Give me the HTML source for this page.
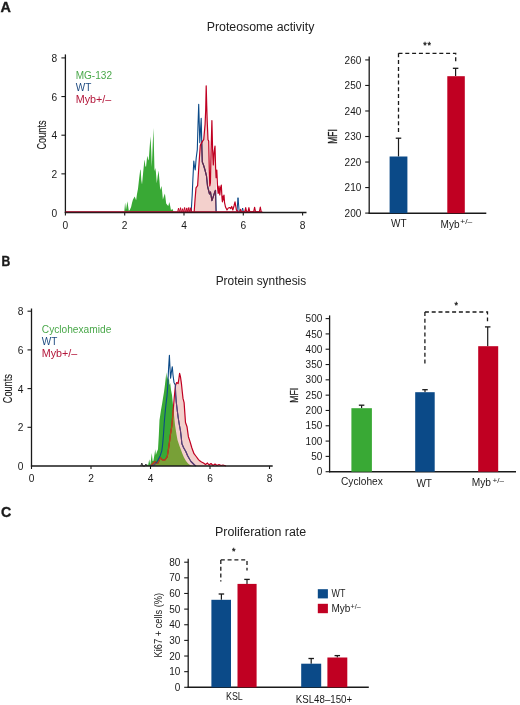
<!DOCTYPE html>
<html><head><meta charset="utf-8"><style>
html,body{margin:0;padding:0;background:#fff;}
svg{display:block;font-family:"Liberation Sans", sans-serif;will-change:transform;}
</style></head><body>
<svg width="520" height="705" viewBox="0 0 520 705">
<rect width="520" height="705" fill="#fff"/>
<text x="0.4" y="12.3" font-size="14.2" fill="#1a1a1a" font-weight="bold" textLength="10.4" lengthAdjust="spacingAndGlyphs" stroke="#1a1a1a" stroke-width="0.35">A</text>
<text x="1.6" y="266.4" font-size="14.0" fill="#1a1a1a" font-weight="bold" textLength="8.8" lengthAdjust="spacingAndGlyphs" stroke="#1a1a1a" stroke-width="0.35">B</text>
<text x="1.0" y="517.3" font-size="14.2" fill="#1a1a1a" font-weight="bold" stroke="#1a1a1a" stroke-width="0.35">C</text>
<text x="206.7" y="30.5" font-size="12.3" fill="#222" textLength="107.7" lengthAdjust="spacingAndGlyphs">Proteosome activity</text>
<text x="215.7" y="285.3" font-size="12.3" fill="#222" textLength="90.5" lengthAdjust="spacingAndGlyphs">Protein synthesis</text>
<text x="215.0" y="535.7" font-size="12.0" fill="#222" textLength="91.2" lengthAdjust="spacingAndGlyphs">Proliferation rate</text>
<path d="M124.3,211.7 L125.1,202.5 L126.0,210.0 L127.4,201.2 L128.8,210.8 L129.8,210.0 L131.1,207.1 L132.0,203.0 L132.9,199.8 L134.7,196.5 L136.1,200.2 L137.0,194.0 L138.0,188.7 L139.2,178.0 L140.3,169.4 L140.7,170.0 L141.3,180.0 L142.0,184.6 L143.2,172.0 L144.4,160.1 L144.7,160.4 L145.3,166.0 L146.0,167.1 L147.0,158.0 L147.4,155.7 L148.0,159.0 L148.7,160.4 L149.6,148.0 L150.5,136.2 L151.2,150.0 L151.8,167.1 L152.7,145.0 L153.5,128.1 L154.0,150.0 L154.5,171.1 L155.3,168.0 L155.9,172.0 L156.8,183.3 L157.7,176.0 L158.6,170.5 L159.4,180.0 L160.2,190.0 L161.5,186.0 L162.2,192.0 L162.9,199.4 L164.0,196.0 L164.9,193.4 L165.5,198.0 L166.2,203.4 L167.3,205.0 L168.3,206.1 L169.3,202.1 L170.2,206.0 L171.0,210.2 L172.3,208.8 L173.6,211.7 Z" fill="#39a935" stroke="none" stroke-width="1.0" stroke-linejoin="round"/>
<path d="M194.2,211.7 L195.0,200.0 L196.0,187.9 L197.6,185.7 L198.6,170.0 L199.4,158.0 L200.3,145.4 L200.9,144.0 L202.6,141.1 L203.7,139.7 L205.1,124.1 L205.7,110.0 L206.2,85.8 L206.7,105.0 L207.2,121.0 L208.0,139.7 L208.7,141.1 L209.3,170.0 L209.8,186.0 L210.4,183.0 L211.1,150.0 L211.9,120.6 L212.6,150.0 L213.3,165.0 L214.1,152.0 L215.0,146.1 L215.6,168.0 L216.1,177.6 L216.4,211.7 Z" fill="#f3d0cc" stroke="none" stroke-width="1.0" stroke-linejoin="round"/>
<path d="M191.2,211.7 L192.2,195.0 L192.9,179.0 L193.8,161.0 L194.4,166.0 L195.2,170.0 L196.2,158.0 L197.3,149.6 L198.0,125.0 L198.7,104.3 L199.3,125.0 L199.8,142.6 L200.5,130.0 L201.2,118.4 L201.9,149.6 L202.3,162.0 L203.5,165.0 L205.0,170.0 L206.5,176.0 L207.5,186.0 L208.5,190.0 L209.5,194.0 L210.5,192.0 L211.9,200.6 L213.5,196.0 L215.1,191.0 L215.6,190.4 L216.2,211.7" fill="none" stroke="#0b4a88" stroke-width="1.1" stroke-linejoin="round"/>
<clipPath id="cpa"><path d="M194.2,211.7 L195.0,200.0 L196.0,187.9 L197.6,185.7 L198.6,170.0 L199.4,158.0 L200.3,145.4 L200.9,144.0 L202.6,141.1 L203.7,139.7 L205.1,124.1 L205.7,110.0 L206.2,85.8 L206.7,105.0 L207.2,121.0 L208.0,139.7 L208.7,141.1 L209.3,170.0 L209.8,186.0 L210.4,183.0 L211.1,150.0 L211.9,120.6 L212.6,150.0 L213.3,165.0 L214.1,152.0 L215.0,146.1 L215.6,168.0 L216.1,177.6 L216.4,211.7 Z"/></clipPath>
<path clip-path="url(#cpa)" d="M191.2,211.7 L192.2,195.0 L192.9,179.0 L193.8,161.0 L194.4,166.0 L195.2,170.0 L196.2,158.0 L197.3,149.6 L198.0,125.0 L198.7,104.3 L199.3,125.0 L199.8,142.6 L200.5,130.0 L201.2,118.4 L201.9,149.6 L202.3,162.0 L203.5,165.0 L205.0,170.0 L206.5,176.0 L207.5,186.0 L208.5,190.0 L209.5,194.0 L210.5,192.0 L211.9,200.6 L213.5,196.0 L215.1,191.0 L215.6,190.4 L216.2,211.7" fill="none" stroke="#6a2448" stroke-width="1.2" stroke-linejoin="round"/>
<path d="M237.0,211.7 L238.0,197.7 L239.2,211.7 L241.8,211.7 L242.6,208.0 L243.4,211.7" fill="none" stroke="#0b4a88" stroke-width="1.0" stroke-linejoin="round"/>
<path d="M194.2,211.7 L195.0,200.0 L196.0,187.9 L197.6,185.7 L198.6,170.0 L199.4,158.0 L200.3,145.4 L200.9,144.0 L202.6,141.1 L203.7,139.7 L205.1,124.1 L205.7,110.0 L206.2,85.8 L206.7,105.0 L207.2,121.0 L208.0,139.7 L208.7,141.1 L209.3,170.0 L209.8,186.0 L210.4,183.0 L211.1,150.0 L211.9,120.6 L212.6,150.0 L213.3,165.0 L214.1,152.0 L215.0,146.1 L215.6,168.0 L216.1,177.6 L216.8,170.0 L217.6,188.0 L218.2,193.5 L219.0,186.0 L219.8,195.0 L220.5,188.0 L221.3,185.2 L222.0,198.0 L222.4,201.8 L223.0,196.0 L223.5,200.0 L224.0,195.0 L224.5,202.3 L225.5,207.0 L227.0,210.0 L228.3,208.0 L229.7,207.5 L230.7,208.5 L231.7,206.5 L232.8,210.0 L234.0,206.0 L235.0,201.8 L236.4,210.0 L237.5,211.0 L238.3,211.7" fill="none" stroke="#c00022" stroke-width="1.2" stroke-linejoin="round"/>
<path d="M177.7,211.7 L178.5,208.2 L179.3,211.7 L179.7,211.7 L180.5,207.7 L181.3,211.7 L181.8,211.7 L182.6,208.7 L183.4,211.7 L183.8,211.7 L184.6,207.5 L185.4,211.7 L186.0,211.7 L186.8,207.9 L187.6,211.7 L188.0,211.7 L188.8,207.5 L189.6,211.7 L190.0,211.7 L190.8,207.7 L191.6,211.7" fill="none" stroke="#c00022" stroke-width="1.0" stroke-linejoin="round"/>
<path d="M239.7,211.7 L240.5,209.2 L241.3,211.7 L244.8,211.7 L245.7,207.5 L246.6,211.7 L248.0,211.7 L248.9,207.5 L249.8,211.7 L253.7,211.7 L254.6,207.2 L255.5,211.7 L259.4,211.7 L260.3,207.0 L261.2,211.7" fill="none" stroke="#c00022" stroke-width="1.1" stroke-linejoin="round"/>
<line x1="65.4" y1="54.4" x2="65.4" y2="213.1" stroke="#1a1a1a" stroke-width="1.3"/>
<line x1="64.80000000000001" y1="212.5" x2="306.5" y2="212.5" stroke="#1a1a1a" stroke-width="1.6"/>
<text x="57.2" y="216.5" font-size="10.2" fill="#1a1a1a" text-anchor="end">0</text>
<line x1="65.4" y1="212.5" x2="65.4" y2="215.5" stroke="#1a1a1a" stroke-width="1.1"/>
<text x="65.4" y="228.5" font-size="10.2" fill="#1a1a1a" text-anchor="middle">0</text>
<line x1="61.400000000000006" y1="173.85" x2="65.4" y2="173.85" stroke="#1a1a1a" stroke-width="1.1"/>
<text x="57.2" y="177.85" font-size="10.2" fill="#1a1a1a" text-anchor="end">2</text>
<line x1="124.7" y1="212.5" x2="124.7" y2="215.5" stroke="#1a1a1a" stroke-width="1.1"/>
<text x="124.7" y="228.5" font-size="10.2" fill="#1a1a1a" text-anchor="middle">2</text>
<line x1="61.400000000000006" y1="135.2" x2="65.4" y2="135.2" stroke="#1a1a1a" stroke-width="1.1"/>
<text x="57.2" y="139.2" font-size="10.2" fill="#1a1a1a" text-anchor="end">4</text>
<line x1="184.0" y1="212.5" x2="184.0" y2="215.5" stroke="#1a1a1a" stroke-width="1.1"/>
<text x="184.0" y="228.5" font-size="10.2" fill="#1a1a1a" text-anchor="middle">4</text>
<line x1="61.400000000000006" y1="96.55000000000001" x2="65.4" y2="96.55000000000001" stroke="#1a1a1a" stroke-width="1.1"/>
<text x="57.2" y="100.55000000000001" font-size="10.2" fill="#1a1a1a" text-anchor="end">6</text>
<line x1="243.29999999999998" y1="212.5" x2="243.29999999999998" y2="215.5" stroke="#1a1a1a" stroke-width="1.1"/>
<text x="243.29999999999998" y="228.5" font-size="10.2" fill="#1a1a1a" text-anchor="middle">6</text>
<line x1="61.400000000000006" y1="57.900000000000006" x2="65.4" y2="57.900000000000006" stroke="#1a1a1a" stroke-width="1.1"/>
<text x="57.2" y="61.900000000000006" font-size="10.2" fill="#1a1a1a" text-anchor="end">8</text>
<line x1="302.6" y1="212.5" x2="302.6" y2="215.5" stroke="#1a1a1a" stroke-width="1.1"/>
<text x="302.6" y="228.5" font-size="10.2" fill="#1a1a1a" text-anchor="middle">8</text>
<text transform="translate(45.7,135.0) rotate(-90)" x="0" y="0" font-size="12.6" fill="#1a1a1a" stroke="#1a1a1a" stroke-width="0.12" text-anchor="middle" textLength="29.2" lengthAdjust="spacingAndGlyphs">Counts</text>
<line x1="65.60000000000001" y1="211.7" x2="262.3" y2="211.7" stroke="#9a0a28" stroke-width="1.0"/>
<text x="75.7" y="79.2" font-size="10" fill="#4aa84a" textLength="36.3" lengthAdjust="spacingAndGlyphs">MG-132</text>
<text x="75.7" y="91.2" font-size="10" fill="#1d4a80">WT</text>
<text x="75.7" y="103.1" font-size="10" fill="#b3163a" textLength="35.5" lengthAdjust="spacingAndGlyphs">Myb+/–</text>
<line x1="369.2" y1="56.5" x2="369.2" y2="213.79999999999998" stroke="#1a1a1a" stroke-width="1.3"/>
<line x1="368.59999999999997" y1="213.2" x2="486.3" y2="213.2" stroke="#1a1a1a" stroke-width="1.6"/>
<line x1="365.2" y1="213.1" x2="369.2" y2="213.1" stroke="#1a1a1a" stroke-width="1.1"/>
<text x="361.3" y="216.7" font-size="10" fill="#1a1a1a" text-anchor="end">200</text>
<line x1="365.2" y1="187.57" x2="369.2" y2="187.57" stroke="#1a1a1a" stroke-width="1.1"/>
<text x="361.3" y="191.17" font-size="10" fill="#1a1a1a" text-anchor="end">210</text>
<line x1="365.2" y1="162.04" x2="369.2" y2="162.04" stroke="#1a1a1a" stroke-width="1.1"/>
<text x="361.3" y="165.64" font-size="10" fill="#1a1a1a" text-anchor="end">220</text>
<line x1="365.2" y1="136.51" x2="369.2" y2="136.51" stroke="#1a1a1a" stroke-width="1.1"/>
<text x="361.3" y="140.10999999999999" font-size="10" fill="#1a1a1a" text-anchor="end">230</text>
<line x1="365.2" y1="110.97999999999999" x2="369.2" y2="110.97999999999999" stroke="#1a1a1a" stroke-width="1.1"/>
<text x="361.3" y="114.57999999999998" font-size="10" fill="#1a1a1a" text-anchor="end">240</text>
<line x1="365.2" y1="85.45" x2="369.2" y2="85.45" stroke="#1a1a1a" stroke-width="1.1"/>
<text x="361.3" y="89.05" font-size="10" fill="#1a1a1a" text-anchor="end">250</text>
<line x1="365.2" y1="59.91999999999999" x2="369.2" y2="59.91999999999999" stroke="#1a1a1a" stroke-width="1.1"/>
<text x="361.3" y="63.51999999999999" font-size="10" fill="#1a1a1a" text-anchor="end">260</text>
<line x1="398.5" y1="138.2" x2="398.5" y2="156.5" stroke="#1a1a1a" stroke-width="1.2"/>
<line x1="395.75" y1="138.2" x2="401.25" y2="138.2" stroke="#1a1a1a" stroke-width="1.3"/>
<rect x="389.6" y="156.5" width="17.8" height="56.69999999999999" fill="#0b4a88"/>
<line x1="455.6" y1="68.3" x2="455.6" y2="76.0" stroke="#1a1a1a" stroke-width="1.2"/>
<line x1="452.85" y1="68.3" x2="458.35" y2="68.3" stroke="#1a1a1a" stroke-width="1.3"/>
<rect x="447.3" y="76.2" width="17.5" height="137.0" fill="#c00022"/>
<path d="M398.5,53.3 L398.5,134.6" fill="none" stroke="#1a1a1a" stroke-width="1.3" stroke-dasharray="4,2.8"/>
<path d="M398.5,53.3 L455.7,53.3 L455.7,61.7" fill="none" stroke="#1a1a1a" stroke-width="1.3" stroke-dasharray="4,2.8" stroke-linejoin="miter"/>
<text x="427.6" y="48.3" font-size="9" fill="#1a1a1a" text-anchor="middle" stroke="#1a1a1a" stroke-width="0.35" letter-spacing="0.9">**</text>
<text x="398.8" y="226.9" font-size="10" fill="#1a1a1a" text-anchor="middle">WT</text>
<text x="440.6" y="228.3" font-size="10" fill="#1a1a1a" textLength="19" lengthAdjust="spacingAndGlyphs">Myb</text>
<text x="460.3" y="223.6" font-size="7.8" fill="#1a1a1a" textLength="12" lengthAdjust="spacingAndGlyphs">+/–</text>
<text transform="translate(337.4,136.5) rotate(-90)" font-size="12" fill="#1a1a1a" stroke="#1a1a1a" stroke-width="0.3" text-anchor="middle" textLength="14.6" lengthAdjust="spacingAndGlyphs">MFI</text>
<path d="M146.5,466.0 L147.5,464.5 L148.2,465.0 L149.2,459.2 L150.3,465.0 L151.8,453.0 L152.6,461.0 L153.4,460.8 L154.4,455.0 L155.3,449.2 L155.9,455.0 L156.5,453.0 L157.3,451.0 L158.0,449.2 L158.8,435.4 L159.5,420.0 L160.2,415.4 L161.0,410.0 L162.1,403.8 L163.0,398.0 L164.0,392.0 L164.8,386.0 L165.5,380.0 L166.4,372.2 L167.0,380.0 L167.6,376.0 L168.2,380.0 L169.0,378.0 L169.5,385.0 L170.2,383.0 L171.0,390.0 L172.0,395.0 L173.0,405.0 L174.0,415.0 L175.0,425.0 L176.5,434.6 L177.5,440.0 L178.5,443.0 L179.5,446.0 L181.0,450.0 L182.5,454.0 L184.0,457.5 L186.0,461.0 L188.0,463.5 L190.0,465.0 L192.0,466.0 Z" fill="#39a935" stroke="none" stroke-width="1.0" stroke-linejoin="round"/>
<path d="M150.0,466.0 L150.0,466.0 L151.5,465.0 L153.4,463.0 L154.9,461.5 L156.5,463.0 L158.0,463.0 L160.3,457.7 L161.5,459.0 L162.6,460.0 L164.9,460.0 L167.2,456.9 L168.0,452.0 L168.8,446.9 L169.6,441.0 L170.3,435.4 L171.0,431.0 L171.8,426.2 L172.7,416.0 L173.4,408.0 L174.2,398.0 L175.0,390.0 L175.6,385.0 L176.7,382.5 L178.1,383.6 L179.0,378.0 L179.6,373.3 L180.5,377.0 L181.5,384.2 L182.3,392.0 L183.0,398.4 L184.1,402.6 L184.8,412.6 L185.5,422.5 L187.0,426.7 L188.4,436.7 L189.8,440.9 L191.9,448.0 L194.0,453.7 L196.2,456.5 L198.3,459.4 L199.7,460.8 L201.5,462.0 L203.5,463.0 L205.5,464.5 L207.5,463.0 L209.0,465.0 L211.0,463.5 L213.0,465.5 L215.0,464.0 L217.0,465.5 L219.0,464.5 L221.0,465.5 L223.0,465.0 L226.0,466.0 L226.0,466.0 Z" fill="#f3d0cc" stroke="none" stroke-width="1.0" stroke-linejoin="round"/>
<clipPath id="cg"><path d="M146.5,466.0 L147.5,464.5 L148.2,465.0 L149.2,459.2 L150.3,465.0 L151.8,453.0 L152.6,461.0 L153.4,460.8 L154.4,455.0 L155.3,449.2 L155.9,455.0 L156.5,453.0 L157.3,451.0 L158.0,449.2 L158.8,435.4 L159.5,420.0 L160.2,415.4 L161.0,410.0 L162.1,403.8 L163.0,398.0 L164.0,392.0 L164.8,386.0 L165.5,380.0 L166.4,372.2 L167.0,380.0 L167.6,376.0 L168.2,380.0 L169.0,378.0 L169.5,385.0 L170.2,383.0 L171.0,390.0 L172.0,395.0 L173.0,405.0 L174.0,415.0 L175.0,425.0 L176.5,434.6 L177.5,440.0 L178.5,443.0 L179.5,446.0 L181.0,450.0 L182.5,454.0 L184.0,457.5 L186.0,461.0 L188.0,463.5 L190.0,465.0 L192.0,466.0 Z"/></clipPath>
<path clip-path="url(#cg)" d="M150.0,466.0 L150.0,466.0 L151.5,465.0 L153.4,463.0 L154.9,461.5 L156.5,463.0 L158.0,463.0 L160.3,457.7 L161.5,459.0 L162.6,460.0 L164.9,460.0 L167.2,456.9 L168.0,452.0 L168.8,446.9 L169.6,441.0 L170.3,435.4 L171.0,431.0 L171.8,426.2 L172.7,416.0 L173.4,408.0 L174.2,398.0 L175.0,390.0 L175.6,385.0 L176.7,382.5 L178.1,383.6 L179.0,378.0 L179.6,373.3 L180.5,377.0 L181.5,384.2 L182.3,392.0 L183.0,398.4 L184.1,402.6 L184.8,412.6 L185.5,422.5 L187.0,426.7 L188.4,436.7 L189.8,440.9 L191.9,448.0 L194.0,453.7 L196.2,456.5 L198.3,459.4 L199.7,460.8 L201.5,462.0 L203.5,463.0 L205.5,464.5 L207.5,463.0 L209.0,465.0 L211.0,463.5 L213.0,465.5 L215.0,464.0 L217.0,465.5 L219.0,464.5 L221.0,465.5 L223.0,465.0 L226.0,466.0 L226.0,466.0 Z" fill="#78a037"/>
<path d="M150.0,466.0 L151.5,465.0 L153.4,463.0 L154.9,461.5 L156.5,463.0 L158.0,463.0 L160.3,457.7 L161.5,459.0 L162.6,460.0 L164.9,460.0 L167.2,456.9 L168.0,452.0 L168.8,446.9 L169.6,441.0 L170.3,435.4 L171.0,431.0 L171.8,426.2 L172.7,416.0 L173.4,408.0 L174.2,398.0 L175.0,390.0 L175.6,385.0 L176.7,382.5 L178.1,383.6 L179.0,378.0 L179.6,373.3 L180.5,377.0 L181.5,384.2 L182.3,392.0 L183.0,398.4 L184.1,402.6 L184.8,412.6 L185.5,422.5 L187.0,426.7 L188.4,436.7 L189.8,440.9 L191.9,448.0 L194.0,453.7 L196.2,456.5 L198.3,459.4 L199.7,460.8 L201.5,462.0 L203.5,463.0 L205.5,464.5 L207.5,463.0 L209.0,465.0 L211.0,463.5 L213.0,465.5 L215.0,464.0 L217.0,465.5 L219.0,464.5 L221.0,465.5 L223.0,465.0 L226.0,466.0" fill="none" stroke="#c00022" stroke-width="1.2" stroke-linejoin="round"/>
<path clip-path="url(#cg)" d="M150.0,466.0 L151.5,465.0 L153.4,463.0 L154.9,461.5 L156.5,463.0 L158.0,463.0 L160.3,457.7 L161.5,459.0 L162.6,460.0 L164.9,460.0 L167.2,456.9 L168.0,452.0 L168.8,446.9 L169.6,441.0 L170.3,435.4 L171.0,431.0 L171.8,426.2 L172.7,416.0 L173.4,408.0 L174.2,398.0 L175.0,390.0 L175.6,385.0 L176.7,382.5 L178.1,383.6 L179.0,378.0 L179.6,373.3 L180.5,377.0 L181.5,384.2 L182.3,392.0 L183.0,398.4 L184.1,402.6 L184.8,412.6 L185.5,422.5 L187.0,426.7 L188.4,436.7 L189.8,440.9 L191.9,448.0 L194.0,453.7 L196.2,456.5 L198.3,459.4 L199.7,460.8 L201.5,462.0 L203.5,463.0 L205.5,464.5 L207.5,463.0 L209.0,465.0 L211.0,463.5 L213.0,465.5 L215.0,464.0 L217.0,465.5 L219.0,464.5 L221.0,465.5 L223.0,465.0 L226.0,466.0" fill="none" stroke="#b04a1c" stroke-width="1.2" stroke-linejoin="round"/>
<path d="M150.0,466.0 L152.0,465.5 L154.0,465.0 L157.2,461.5 L160.3,455.4 L161.8,450.8 L162.6,444.6 L163.4,435.4 L164.2,423.8 L165.0,414.0 L166.0,404.0 L167.0,396.0 L167.8,385.0 L168.5,370.0 L169.4,355.2 L170.0,368.0 L170.6,378.2 L171.4,372.0 L172.3,366.7 L173.0,375.0 L174.0,382.4 L175.3,385.0 L175.7,395.0 L176.2,401.5 L177.2,410.0 L178.1,417.0 L179.2,424.0 L180.4,430.4 L181.2,437.0 L181.9,443.8 L183.5,447.5 L185.8,451.5 L187.5,455.5 L189.6,459.2 L191.0,461.5 L192.5,463.0 L194.5,465.0 L196.0,466.0" fill="none" stroke="#0b4a88" stroke-width="1.1" stroke-linejoin="round"/>
<clipPath id="cp"><path d="M150.0,466.0 L150.0,466.0 L151.5,465.0 L153.4,463.0 L154.9,461.5 L156.5,463.0 L158.0,463.0 L160.3,457.7 L161.5,459.0 L162.6,460.0 L164.9,460.0 L167.2,456.9 L168.0,452.0 L168.8,446.9 L169.6,441.0 L170.3,435.4 L171.0,431.0 L171.8,426.2 L172.7,416.0 L173.4,408.0 L174.2,398.0 L175.0,390.0 L175.6,385.0 L176.7,382.5 L178.1,383.6 L179.0,378.0 L179.6,373.3 L180.5,377.0 L181.5,384.2 L182.3,392.0 L183.0,398.4 L184.1,402.6 L184.8,412.6 L185.5,422.5 L187.0,426.7 L188.4,436.7 L189.8,440.9 L191.9,448.0 L194.0,453.7 L196.2,456.5 L198.3,459.4 L199.7,460.8 L201.5,462.0 L203.5,463.0 L205.5,464.5 L207.5,463.0 L209.0,465.0 L211.0,463.5 L213.0,465.5 L215.0,464.0 L217.0,465.5 L219.0,464.5 L221.0,465.5 L223.0,465.0 L226.0,466.0 L226.0,466.0 Z"/></clipPath>
<path clip-path="url(#cp)" d="M150.0,466.0 L152.0,465.5 L154.0,465.0 L157.2,461.5 L160.3,455.4 L161.8,450.8 L162.6,444.6 L163.4,435.4 L164.2,423.8 L165.0,414.0 L166.0,404.0 L167.0,396.0 L167.8,385.0 L168.5,370.0 L169.4,355.2 L170.0,368.0 L170.6,378.2 L171.4,372.0 L172.3,366.7 L173.0,375.0 L174.0,382.4 L175.3,385.0 L175.7,395.0 L176.2,401.5 L177.2,410.0 L178.1,417.0 L179.2,424.0 L180.4,430.4 L181.2,437.0 L181.9,443.8 L183.5,447.5 L185.8,451.5 L187.5,455.5 L189.6,459.2 L191.0,461.5 L192.5,463.0 L194.5,465.0 L196.0,466.0" fill="none" stroke="#6a3a70" stroke-width="1.1" stroke-linejoin="round"/>
<path d="M140.8,466.0 L141.8,463.0 L142.8,466.0 L145.0,466.0 L145.9,464.0 L146.8,466.0" fill="none" stroke="#333" stroke-width="1.0" stroke-linejoin="round"/>
<line x1="31.5" y1="308.5" x2="31.5" y2="466.6" stroke="#1a1a1a" stroke-width="1.3"/>
<line x1="30.9" y1="466.0" x2="272.7" y2="466.0" stroke="#1a1a1a" stroke-width="1.6"/>
<text x="23.3" y="470.0" font-size="10.2" fill="#1a1a1a" text-anchor="end">0</text>
<line x1="31.5" y1="466.0" x2="31.5" y2="469.0" stroke="#1a1a1a" stroke-width="1.1"/>
<text x="31.5" y="482.0" font-size="10.2" fill="#1a1a1a" text-anchor="middle">0</text>
<line x1="27.5" y1="427.3" x2="31.5" y2="427.3" stroke="#1a1a1a" stroke-width="1.1"/>
<text x="23.3" y="431.3" font-size="10.2" fill="#1a1a1a" text-anchor="end">2</text>
<line x1="91.0" y1="466.0" x2="91.0" y2="469.0" stroke="#1a1a1a" stroke-width="1.1"/>
<text x="91.0" y="482.0" font-size="10.2" fill="#1a1a1a" text-anchor="middle">2</text>
<line x1="27.5" y1="388.6" x2="31.5" y2="388.6" stroke="#1a1a1a" stroke-width="1.1"/>
<text x="23.3" y="392.6" font-size="10.2" fill="#1a1a1a" text-anchor="end">4</text>
<line x1="150.5" y1="466.0" x2="150.5" y2="469.0" stroke="#1a1a1a" stroke-width="1.1"/>
<text x="150.5" y="482.0" font-size="10.2" fill="#1a1a1a" text-anchor="middle">4</text>
<line x1="27.5" y1="349.9" x2="31.5" y2="349.9" stroke="#1a1a1a" stroke-width="1.1"/>
<text x="23.3" y="353.9" font-size="10.2" fill="#1a1a1a" text-anchor="end">6</text>
<line x1="210.0" y1="466.0" x2="210.0" y2="469.0" stroke="#1a1a1a" stroke-width="1.1"/>
<text x="210.0" y="482.0" font-size="10.2" fill="#1a1a1a" text-anchor="middle">6</text>
<line x1="27.5" y1="311.2" x2="31.5" y2="311.2" stroke="#1a1a1a" stroke-width="1.1"/>
<text x="23.3" y="315.2" font-size="10.2" fill="#1a1a1a" text-anchor="end">8</text>
<line x1="269.5" y1="466.0" x2="269.5" y2="469.0" stroke="#1a1a1a" stroke-width="1.1"/>
<text x="269.5" y="482.0" font-size="10.2" fill="#1a1a1a" text-anchor="middle">8</text>
<text transform="translate(11.9,388.7) rotate(-90)" x="0" y="0" font-size="12.6" fill="#1a1a1a" stroke="#1a1a1a" stroke-width="0.12" text-anchor="middle" textLength="29" lengthAdjust="spacingAndGlyphs">Counts</text>
<text x="41.8" y="332.6" font-size="10" fill="#4aa84a" textLength="69.5" lengthAdjust="spacingAndGlyphs">Cyclohexamide</text>
<text x="41.8" y="344.6" font-size="10" fill="#1d4a80">WT</text>
<text x="41.8" y="356.8" font-size="10" fill="#b3163a" textLength="35.5" lengthAdjust="spacingAndGlyphs">Myb+/–</text>
<line x1="329.6" y1="315.4" x2="329.6" y2="472.3" stroke="#1a1a1a" stroke-width="1.3"/>
<line x1="329.0" y1="471.7" x2="516.0" y2="471.7" stroke="#1a1a1a" stroke-width="1.6"/>
<line x1="325.6" y1="471.7" x2="329.6" y2="471.7" stroke="#1a1a1a" stroke-width="1.1"/>
<text x="322.3" y="475.3" font-size="10" fill="#1a1a1a" text-anchor="end">0</text>
<line x1="325.6" y1="456.39" x2="329.6" y2="456.39" stroke="#1a1a1a" stroke-width="1.1"/>
<text x="322.3" y="459.99" font-size="10" fill="#1a1a1a" text-anchor="end">50</text>
<line x1="325.6" y1="441.08" x2="329.6" y2="441.08" stroke="#1a1a1a" stroke-width="1.1"/>
<text x="322.3" y="444.68" font-size="10" fill="#1a1a1a" text-anchor="end">100</text>
<line x1="325.6" y1="425.77" x2="329.6" y2="425.77" stroke="#1a1a1a" stroke-width="1.1"/>
<text x="322.3" y="429.37" font-size="10" fill="#1a1a1a" text-anchor="end">150</text>
<line x1="325.6" y1="410.46" x2="329.6" y2="410.46" stroke="#1a1a1a" stroke-width="1.1"/>
<text x="322.3" y="414.06" font-size="10" fill="#1a1a1a" text-anchor="end">200</text>
<line x1="325.6" y1="395.15" x2="329.6" y2="395.15" stroke="#1a1a1a" stroke-width="1.1"/>
<text x="322.3" y="398.75" font-size="10" fill="#1a1a1a" text-anchor="end">250</text>
<line x1="325.6" y1="379.84" x2="329.6" y2="379.84" stroke="#1a1a1a" stroke-width="1.1"/>
<text x="322.3" y="383.44" font-size="10" fill="#1a1a1a" text-anchor="end">300</text>
<line x1="325.6" y1="364.53" x2="329.6" y2="364.53" stroke="#1a1a1a" stroke-width="1.1"/>
<text x="322.3" y="368.13" font-size="10" fill="#1a1a1a" text-anchor="end">350</text>
<line x1="325.6" y1="349.21999999999997" x2="329.6" y2="349.21999999999997" stroke="#1a1a1a" stroke-width="1.1"/>
<text x="322.3" y="352.82" font-size="10" fill="#1a1a1a" text-anchor="end">400</text>
<line x1="325.6" y1="333.90999999999997" x2="329.6" y2="333.90999999999997" stroke="#1a1a1a" stroke-width="1.1"/>
<text x="322.3" y="337.51" font-size="10" fill="#1a1a1a" text-anchor="end">450</text>
<line x1="325.6" y1="318.59999999999997" x2="329.6" y2="318.59999999999997" stroke="#1a1a1a" stroke-width="1.1"/>
<text x="322.3" y="322.2" font-size="10" fill="#1a1a1a" text-anchor="end">500</text>
<line x1="361.6" y1="405.2" x2="361.6" y2="408.2" stroke="#1a1a1a" stroke-width="1.2"/>
<line x1="358.85" y1="405.2" x2="364.35" y2="405.2" stroke="#1a1a1a" stroke-width="1.3"/>
<rect x="351.4" y="408.2" width="20.5" height="63.5" fill="#39a935"/>
<line x1="425.0" y1="389.7" x2="425.0" y2="392.2" stroke="#1a1a1a" stroke-width="1.2"/>
<line x1="422.25" y1="389.7" x2="427.75" y2="389.7" stroke="#1a1a1a" stroke-width="1.3"/>
<rect x="415.2" y="392.2" width="19.5" height="79.5" fill="#0b4a88"/>
<line x1="487.7" y1="326.9" x2="487.7" y2="346.2" stroke="#1a1a1a" stroke-width="1.2"/>
<line x1="484.95" y1="326.9" x2="490.45" y2="326.9" stroke="#1a1a1a" stroke-width="1.3"/>
<rect x="478.2" y="346.2" width="20.0" height="125.5" fill="#c00022"/>
<path d="M424.9,312.0 L424.9,365.0" fill="none" stroke="#1a1a1a" stroke-width="1.3" stroke-dasharray="4,2.8"/>
<path d="M424.9,312.0 L487.5,312.0 L487.5,321.2" fill="none" stroke="#1a1a1a" stroke-width="1.3" stroke-dasharray="4,2.8" stroke-linejoin="miter"/>
<text x="456.2" y="307.8" font-size="9" fill="#1a1a1a" text-anchor="middle" stroke="#1a1a1a" stroke-width="0.35">*</text>
<text x="341.0" y="484.6" font-size="10" fill="#1a1a1a" textLength="41.8" lengthAdjust="spacingAndGlyphs">Cyclohex</text>
<text x="424.2" y="487.0" font-size="10" fill="#1a1a1a" text-anchor="middle">WT</text>
<text x="471.7" y="486.4" font-size="10" fill="#1a1a1a" textLength="19.3" lengthAdjust="spacingAndGlyphs">Myb</text>
<text x="492.4" y="482.6" font-size="7.8" fill="#1a1a1a" textLength="11.6" lengthAdjust="spacingAndGlyphs">+/–</text>
<text transform="translate(298.0,395.3) rotate(-90)" font-size="11.5" fill="#1a1a1a" stroke="#1a1a1a" stroke-width="0.25" text-anchor="middle" textLength="14.9" lengthAdjust="spacingAndGlyphs">MFI</text>
<line x1="188.2" y1="558.8" x2="188.2" y2="687.9" stroke="#1a1a1a" stroke-width="1.3"/>
<line x1="187.6" y1="687.3" x2="368.8" y2="687.3" stroke="#1a1a1a" stroke-width="1.6"/>
<line x1="184.2" y1="687.3" x2="188.2" y2="687.3" stroke="#1a1a1a" stroke-width="1.1"/>
<text x="180.3" y="690.9" font-size="10" fill="#1a1a1a" text-anchor="end">0</text>
<line x1="184.2" y1="671.6619999999999" x2="188.2" y2="671.6619999999999" stroke="#1a1a1a" stroke-width="1.1"/>
<text x="180.3" y="675.262" font-size="10" fill="#1a1a1a" text-anchor="end">10</text>
<line x1="184.2" y1="656.024" x2="188.2" y2="656.024" stroke="#1a1a1a" stroke-width="1.1"/>
<text x="180.3" y="659.624" font-size="10" fill="#1a1a1a" text-anchor="end">20</text>
<line x1="184.2" y1="640.386" x2="188.2" y2="640.386" stroke="#1a1a1a" stroke-width="1.1"/>
<text x="180.3" y="643.986" font-size="10" fill="#1a1a1a" text-anchor="end">30</text>
<line x1="184.2" y1="624.7479999999999" x2="188.2" y2="624.7479999999999" stroke="#1a1a1a" stroke-width="1.1"/>
<text x="180.3" y="628.348" font-size="10" fill="#1a1a1a" text-anchor="end">40</text>
<line x1="184.2" y1="609.1099999999999" x2="188.2" y2="609.1099999999999" stroke="#1a1a1a" stroke-width="1.1"/>
<text x="180.3" y="612.7099999999999" font-size="10" fill="#1a1a1a" text-anchor="end">50</text>
<line x1="184.2" y1="593.472" x2="188.2" y2="593.472" stroke="#1a1a1a" stroke-width="1.1"/>
<text x="180.3" y="597.072" font-size="10" fill="#1a1a1a" text-anchor="end">60</text>
<line x1="184.2" y1="577.834" x2="188.2" y2="577.834" stroke="#1a1a1a" stroke-width="1.1"/>
<text x="180.3" y="581.434" font-size="10" fill="#1a1a1a" text-anchor="end">70</text>
<line x1="184.2" y1="562.1959999999999" x2="188.2" y2="562.1959999999999" stroke="#1a1a1a" stroke-width="1.1"/>
<text x="180.3" y="565.7959999999999" font-size="10" fill="#1a1a1a" text-anchor="end">80</text>
<line x1="221.4" y1="594.0" x2="221.4" y2="599.8" stroke="#1a1a1a" stroke-width="1.2"/>
<line x1="218.65" y1="594.0" x2="224.15" y2="594.0" stroke="#1a1a1a" stroke-width="1.3"/>
<rect x="211.4" y="599.8" width="19.6" height="87.5" fill="#0b4a88"/>
<line x1="247.0" y1="579.4" x2="247.0" y2="583.9" stroke="#1a1a1a" stroke-width="1.2"/>
<line x1="244.25" y1="579.4" x2="249.75" y2="579.4" stroke="#1a1a1a" stroke-width="1.3"/>
<rect x="237.5" y="583.9" width="19.1" height="103.39999999999998" fill="#c00022"/>
<line x1="311.2" y1="658.5" x2="311.2" y2="663.7" stroke="#1a1a1a" stroke-width="1.2"/>
<line x1="308.45" y1="658.5" x2="313.95" y2="658.5" stroke="#1a1a1a" stroke-width="1.3"/>
<rect x="301.2" y="663.7" width="20.0" height="23.59999999999991" fill="#0b4a88"/>
<line x1="337.3" y1="655.6" x2="337.3" y2="657.5" stroke="#1a1a1a" stroke-width="1.2"/>
<line x1="334.55" y1="655.6" x2="340.05" y2="655.6" stroke="#1a1a1a" stroke-width="1.3"/>
<rect x="327.4" y="657.5" width="19.9" height="29.799999999999955" fill="#c00022"/>
<path d="M220.8,559.9 L220.8,581.5" fill="none" stroke="#1a1a1a" stroke-width="1.3" stroke-dasharray="4,2.8"/>
<path d="M220.8,559.9 L247.0,559.9 L247.0,570.5" fill="none" stroke="#1a1a1a" stroke-width="1.3" stroke-dasharray="4,2.8" stroke-linejoin="miter"/>
<text x="233.8" y="553.9" font-size="9" fill="#1a1a1a" text-anchor="middle" stroke="#1a1a1a" stroke-width="0.35">*</text>
<text x="234.4" y="700.4" font-size="10" fill="#1a1a1a" text-anchor="middle" textLength="16.8" lengthAdjust="spacingAndGlyphs">KSL</text>
<text x="295.8" y="702.9" font-size="10" fill="#1a1a1a" textLength="56.3" lengthAdjust="spacingAndGlyphs">KSL48–150+</text>
<text transform="translate(161.9,625.1) rotate(-90)" font-size="11" fill="#1a1a1a" text-anchor="middle" textLength="64.6" lengthAdjust="spacingAndGlyphs">Ki67 + cells (%)</text>
<rect x="317.8" y="589.2" width="10.1" height="9.2" fill="#0b4a88"/>
<rect x="317.8" y="603.8" width="10.1" height="9.4" fill="#c00022"/>
<text x="331.5" y="597.3" font-size="10" fill="#1a1a1a" textLength="13.8" lengthAdjust="spacingAndGlyphs">WT</text>
<text x="331.5" y="612.4" font-size="10" fill="#1a1a1a">Myb</text>
<text x="350.6" y="608.6" font-size="7.5" fill="#1a1a1a" textLength="10.2" lengthAdjust="spacingAndGlyphs">+/–</text>
</svg></body></html>
